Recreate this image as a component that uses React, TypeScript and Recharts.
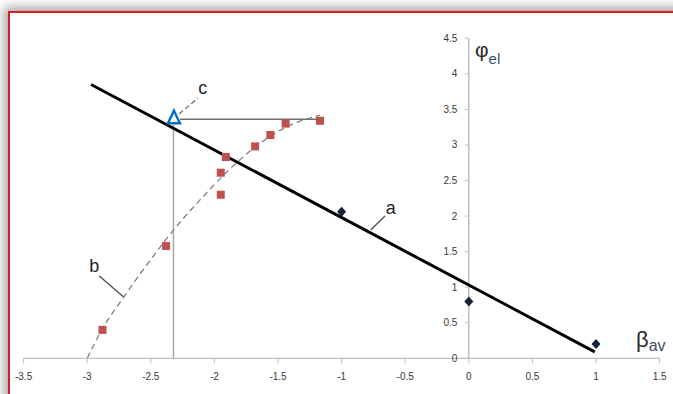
import React from 'react';
import { ComposedChart, Line, Scatter, XAxis, YAxis } from 'recharts';

// ---- data ----
const xTicks = [-3.5, -3, -2.5, -2, -1.5, -1, -0.5, 0, 0.5, 1, 1.5];
const yTicks = [0, 0.5, 1, 1.5, 2, 2.5, 3, 3.5, 4, 4.5];

// line a (linear fit)
const lineAX = [-2.97, 0.99];
const lineAY = [3.85, 0.09];

// blue diamonds
const blueX = [-1, 0, 1];
const blueY = [2.06, 0.8, 0.2];

// red squares
const redX = [-2.88, -2.38, -1.95, -1.95, -1.91, -1.68, -1.56, -1.44, -1.17];
const redY = [0.4, 1.58, 2.3, 2.61, 2.83, 2.98, 3.14, 3.3, 3.34];

// dashed curve b
const curveX = [-3.0, -2.886, -2.716, -2.454, -2.323, -2.113, -1.903, -1.694, -1.432, -1.17];
const curveY = [0, 0.398, 0.852, 1.5, 1.8, 2.227, 2.62, 2.95, 3.257, 3.42];

// point c and its guide lines
const pointCX = [-2.318];
const pointCY = [3.394];
const guideHX = [-2.27, -1.17];
const guideHY = [3.361, 3.361];
const guideVX = [-2.322, -2.322];
const guideVY = [0, 3.29];

// annotation leaders
const leaderAX = [-0.771, -0.659];
const leaderAY = [1.804, 2.001];
const leaderBX = [-2.905, -2.716];
const leaderBY = [1.158, 0.866];
const leaderCX = [-2.278, -2.129];
const leaderCY = [3.435, 3.66];

// annotation text anchors
const labelA = { x: -0.614, y: 2.124, text: 'a' };
const labelB = { x: -2.944, y: 1.298, text: 'b' };
const labelC = { x: -2.092, y: 3.812, text: 'c' };
const labelPhi = { x: 0.0487, y: 4.238 };
const labelBeta = { x: 1.3145, y: 0.159 };

const zip = (xs: number[], ys: number[]) => xs.map((x, i) => ({ x, y: ys[i] }));

const yAxisLine = zip([0, 0], [0, 4.5]);
const yTickData = yTicks.map((v) => ({ x: 0, y: v }));

const TICK_FONT = '"Liberation Sans", Arial, sans-serif';

const Square = (p: any) => (
  <rect x={p.cx - 4} y={p.cy - 4} width={8} height={8} fill="#c0504d" />
);
const Diamond = (p: any) => (
  <polygon
    points={`${p.cx},${p.cy - 5} ${p.cx + 4.5},${p.cy} ${p.cx},${p.cy + 5} ${p.cx - 4.5},${p.cy}`}
    fill="#17223b"
  />
);
const Triangle = (p: any) => (
  <polygon
    points={`${p.cx},${p.cy - 6.3} ${p.cx + 6},${p.cy + 6.3} ${p.cx - 6},${p.cy + 6.3}`}
    fill="#fff"
    stroke="#0070c0"
    strokeWidth={2.4}
  />
);
const YTick = (p: any) => (
  <g>
    <line x1={p.cx - 4} y1={p.cy} x2={p.cx} y2={p.cy} stroke="#bfbfbf" strokeWidth={1} />
    <text
      x={p.cx - 11.5}
      y={p.cy}
      dy="0.35em"
      textAnchor="end"
      fontSize={10}
      fill="#3a3a3a"
      fontFamily={TICK_FONT}
    >
      {String(p.payload.y)}
    </text>
  </g>
);
const makeLetter = (t: string) => (p: any) => (
  <text
    x={p.cx}
    y={p.cy}
    dy="0.35em"
    textAnchor="middle"
    fontSize={18}
    fill="#262626"
    fontFamily={TICK_FONT}
  >
    {t}
  </text>
);
const PhiLabel = (p: any) => (
  <text x={p.cx} y={p.cy} fontFamily={TICK_FONT} fill="#2b2b2b">
    <tspan fontSize={21}>φ</tspan>
    <tspan fontSize={15} dy={7} fill="#3f4f6b">el</tspan>
  </text>
);
const BetaLabel = (p: any) => (
  <text x={p.cx} y={p.cy} fontFamily={TICK_FONT} fill="#2b2b2b">
    <tspan fontSize={22}>β</tspan>
    <tspan fontSize={16} dy={4.5} fill="#3f4f6b">av</tspan>
  </text>
);

export default function App() {
  return (
    <div
      style={{
        position: 'absolute',
        left: 0,
        top: 0,
        width: 673,
        height: 394,
        overflow: 'hidden',
        background: '#ffffff',
      }}
    >
      <div
        style={{
          position: 'absolute',
          left: 8,
          top: 11,
          width: 720,
          height: 440,
          border: '2px solid #d51d1d',
          background: '#ffffff',
          boxShadow: '0 0 10px 4px rgba(0,0,0,0.35)',
        }}
      />
      <div style={{ position: 'absolute', left: 0, top: 0 }}>
        <ComposedChart
          width={673}
          height={394}
          margin={{ top: 38.3, right: 13.4, bottom: 5.7, left: 23.6 }}
        >
          <XAxis
            type="number"
            dataKey="x"
            domain={[-3.5, 1.5]}
            ticks={xTicks}
            interval={0}
            height={30}
            tickSize={5}
            tickMargin={10}
            axisLine={{ stroke: '#bfbfbf', strokeWidth: 1.3 }}
            tickLine={{ stroke: '#bfbfbf' }}
            tick={{ fontSize: 10, fill: '#3a3a3a', fontFamily: TICK_FONT }}
            tickFormatter={(v: number) => String(v)}
          />
          <YAxis type="number" dataKey="y" domain={[0, 4.5]} hide />

          <Line
            data={yAxisLine}
            dataKey="y"
            stroke="#bfbfbf"
            strokeWidth={1.5}
            dot={false}
            activeDot={false}
            isAnimationActive={false}
          />
          <Scatter data={yTickData} dataKey="y" shape={YTick} isAnimationActive={false} />

          <Line
            data={zip(guideVX, guideVY)}
            dataKey="y"
            stroke="#a6a6a6"
            strokeWidth={1.5}
            dot={false}
            activeDot={false}
            isAnimationActive={false}
          />
          <Line
            data={zip(guideHX, guideHY)}
            dataKey="y"
            stroke="#6f6f6f"
            strokeWidth={1.5}
            dot={false}
            activeDot={false}
            isAnimationActive={false}
          />
          <Line
            data={zip(curveX, curveY)}
            dataKey="y"
            type="monotone"
            stroke="#7f7f7f"
            strokeWidth={1.3}
            strokeDasharray="6 4"
            dot={false}
            activeDot={false}
            isAnimationActive={false}
          />
          <Line
            data={zip(leaderAX, leaderAY)}
            dataKey="y"
            stroke="#4d4d4d"
            strokeWidth={1.3}
            dot={false}
            activeDot={false}
            isAnimationActive={false}
          />
          <Line
            data={zip(leaderBX, leaderBY)}
            dataKey="y"
            stroke="#4d4d4d"
            strokeWidth={1.3}
            dot={false}
            activeDot={false}
            isAnimationActive={false}
          />
          <Line
            data={zip(leaderCX, leaderCY)}
            dataKey="y"
            stroke="#6a6a6a"
            strokeWidth={1.3}
            strokeDasharray="5 3"
            dot={false}
            activeDot={false}
            isAnimationActive={false}
          />
          <Scatter data={zip(redX, redY)} dataKey="y" shape={Square} isAnimationActive={false} />
          <Line
            data={zip(lineAX, lineAY)}
            dataKey="y"
            stroke="#000000"
            strokeWidth={3}
            dot={false}
            activeDot={false}
            isAnimationActive={false}
          />
          <Scatter data={zip(blueX, blueY)} dataKey="y" shape={Diamond} isAnimationActive={false} />
          <Scatter data={zip(pointCX, pointCY)} dataKey="y" shape={Triangle} isAnimationActive={false} />

          <Scatter data={[labelA]} dataKey="y" shape={makeLetter(labelA.text)} isAnimationActive={false} />
          <Scatter data={[labelB]} dataKey="y" shape={makeLetter(labelB.text)} isAnimationActive={false} />
          <Scatter data={[labelC]} dataKey="y" shape={makeLetter(labelC.text)} isAnimationActive={false} />
          <Scatter data={[labelPhi]} dataKey="y" shape={PhiLabel} isAnimationActive={false} />
          <Scatter data={[labelBeta]} dataKey="y" shape={BetaLabel} isAnimationActive={false} />
        </ComposedChart>
      </div>
    </div>
  );
}
